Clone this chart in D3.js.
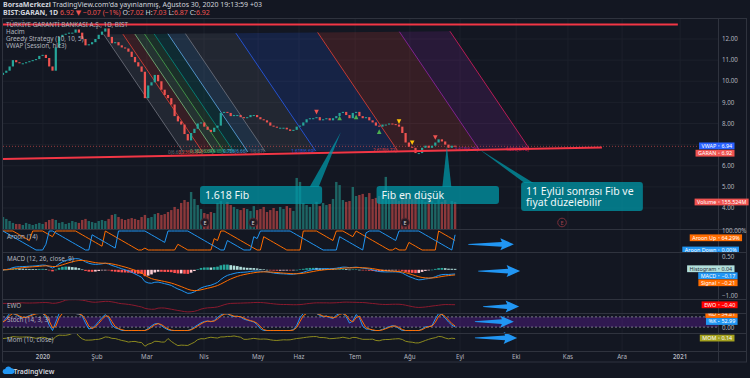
<!DOCTYPE html>
<html>
<head>
<meta charset="utf-8">
<script src="https://cdn.jsdelivr.net/npm/d3@7"></script>
<style>
  body { margin: 0; background: #131722; }
  svg { display: block; font-family: "Noto Sans", "DejaVu Sans", sans-serif; }
</style>
</head>
<body>
<svg id="chart" width="750" height="378"></svg>
<script>
// BIST:GARAN 1D, Dec 2019 - Aug 2020
// one entry = one candle as read (roughly 1.35 sessions each)
const closes = [
  10.4, 10.5, 10.7, 11.0, 10.9, 10.85, 10.85, 10.9, 10.95, 11.0,
  11.05, 11.2, 11.25, 11.1, 10.7, 10.5, 11.6, 12.1, 12.2, 12.25,
  12.3, 12.3, 12.45, 12.3, 12.0, 11.7, 11.75, 11.85, 12.0, 12.2,
  12.35, 12.5, 12.1, 11.8, 11.85, 11.7, 11.6, 11.55, 11.4, 11.15,
  10.9, 10.7, 10.45, 9.2, 9.8, 9.95, 10.3, 10.0, 9.6, 9.35,
  9.2, 8.9, 8.35, 8.1, 7.95, 7.5, 7.2, 7.55, 7.75, 8.0,
  8.05, 7.85, 7.7, 7.6, 7.8, 7.9, 8.5, 8.55, 8.5, 8.35,
  8.4, 8.4, 8.3, 8.25, 8.3, 8.4, 8.4, 8.3, 8.2, 8.15,
  8.05, 7.9, 7.85, 7.8, 7.8, 7.8, 7.72, 7.65, 7.7, 7.85,
  7.9, 8.05, 8.2, 8.25, 8.25, 8.3, 8.15, 8.2, 8.25, 8.15,
  8.25, 8.35, 8.5, 8.55, 8.4, 8.25, 8.5, 8.55, 8.35, 8.25,
  8.3, 8.15, 8.05, 7.9, 7.85, 7.95, 7.95, 8.0, 7.97, 7.95,
  7.85, 7.55, 7.1, 6.9, 6.85, 6.6, 6.6, 6.85, 6.95, 6.85,
  6.95, 7.1, 7.25, 7.15, 7.0, 6.85, 6.95, 6.92
];
const firstOpen = 10.3;
// volume in millions
const volumes = [
  69, 58, 46, 35, 29, 29, 23, 35, 29, 23, 29, 35, 29, 40,
  52, 58, 52,
  35, 40, 29, 35, 46, 40, 35, 52, 58, 46, 40, 35, 46, 52,
  46, 58, 81, 86, 69, 58, 52, 58,
  63, 58, 52, 69, 81, 63, 69,
  86, 92, 81, 86, 98,
  109, 127, 115, 150, 167, 156,
  213, 173, 138, 115,
  92, 86, 98, 92,
  150, 161, 144, 156, 138, 127, 115,
  109, 121, 115, 104, 132, 109, 115, 127, 98,
  109, 121, 104, 127, 115, 132, 121, 104,
  294, 271, 150,
  138, 127, 144, 156, 132, 150, 138, 144,
  173, 271, 253, 167, 156,
  161, 242, 190, 196, 202, 184,
  207, 173, 179, 190, 196, 300,
  173, 190, 179, 161, 196, 207,
  184, 173, 196, 179, 167, 156,
  179, 161, 150, 173, 156, 167, 144, 161, 155.524
];

const monthLabels = ["2020", "Şub", "Mar", "Nis", "May", "Haz", "Tem", "Ağu", "Eyl", "Eki", "Kas", "Ara", "2021"];
const monthBars = [12.1, 28.5, 43.6, 60.9, 77.3, 89.7, 106.7, 123.3, 138.5, 155.5, 171.2, 187.6, 205.2];
const priceTicks = [4, 5, 6, 7, 8, 9, 10, 11, 12];

const fibLevels = [0, 0.236, 0.382, 0.5, 0.618, 0.786, 1, 1.618, 2.618, 3.618, 4.236];
const fibColors = ["#787b86", "#f44336", "#81c784", "#4caf50", "#009688", "#64b5f6", "#787b86", "#2962ff", "#f44336", "#9c27b0", "#e91e63"];
// fib channel drawing points (bar, price)
const fibAnchor = [30.5, 12.22];
const fibSpan = [24.2, -5.59];
const fibStep = [24.77, 0.035];

// drawn trend lines (bar, price)
const topLine = [[0, 12.69], [204.5, 12.69]];
const supportLine = [[0, 6.32], [181.5, 6.86]];

const longSignals = [102, 107, 114];
const shortSignals = [95, 131];
const closeSignals = [120, 124];
const earningsBars = [61.2, 75.8, 121.8, 169.4];

const callouts = [
  { text: ["1.618 Fib"], box: [59.7, 96.7, 5.04, 4.19], tip: [102.4, 7.6] },
  { text: ["Fib en düşük"], box: [113.2, 150.3, 5.04, 4.19], tip: [134.5, 6.93] },
  { text: ["11 Eylül sonrası Fib ve", "fiyat düzelebilir"], box: [157, 193.9, 5.23, 3.86], tip: [144.2, 6.79] }
];

const legendLines = ["TÜRKİYE GARANTİ BANKASI A.Ş., 1D, BIST", "Hacim", "Greedy Strategy (10, 10, 5)", "VWAP (Session, hlc3)"];
const paneTitles = ["Aroon (14)", "MACD (12, 26, close, 9)", "EWO", "Stoch (14, 3, 3)", "Mom (10, close)"];

// last values shown on the scale
const lastVwap = 6.94, lastClose = 6.92, lastVolume = 155.524;
const lastAroon = [64.29, 0.0];
const lastMacd = [0.04, -0.17, -0.21];
const lastEwo = -0.40;
const lastStoch = [54.81, 52.99];
const lastMom = 0.14;

// sub-pane arrows: [from bar, to bar, value on the pane scale]
const arrows = {
  aroon: [141, 154.8, 30],
  macd: [144, 156.7, -0.05],
  ewo: [145.5, 156.4, -0.9],
  stoch: [143, 154.8, 52],
  mom: [143, 155.8, 0.2]
};

// indicator periods shortened because each candle above is ~1.35 sessions
const aroonLen = 10, macdFast = 9, macdSlow = 19, macdSig = 7;
const stochLen = 10, stochSmooth = 2, momLen = 7, ewoFast = 4, ewoSlow = 26;

const bg = "#131722", upCol = "#26a69a", downCol = "#ef5350", gridCol = "#1c202b", sepCol = "#2f333e", txtCol = "#b2b5be";

const svg = d3.select("#chart");
const defs = svg.append("defs");
svg.append("rect").attr("width", 750).attr("height", 378).attr("fill", bg);

function clip(id, y0, y1, x0 = 2.5, x1 = 718) {
  defs.append("clipPath").attr("id", id).append("rect")
    .attr("x", x0).attr("y", y0).attr("width", x1 - x0).attr("height", y1 - y0);
  return `url(#${id})`;
}

const panes = { main: [18, 229], aroon: [229, 252], macd: [252, 299], ewo: [299, 313], stoch: [313, 333], mom: [333, 351] };

const x = d3.scaleLinear().domain([0, 216]).range([3, 715.8]);
const yPrice = d3.scaleLinear().domain([4, 12]).range([208, 39]);
const yVol = d3.scaleLinear().domain([0, 300]).range([229, 176.9]);
const yAroon = d3.scaleLinear().domain([0, 100]).range([250, 231]);
const yMacd = d3.scaleLinear().domain([-1, 0.5]).range([296, 256.7]);
const yEwo = d3.scaleLinear().domain([-2.4, 0]).range([311.8, 303.4]);
const yStoch = d3.scaleLinear().domain([0, 100]).range([330.5, 313.5]);
const yMom = d3.scaleLinear().domain([-3.1, 1.25]).range([348.5, 334.5]);

const bars = closes.map((c, i) => ({ i, o: i ? closes[i - 1] : firstOpen, c, v: volumes[i] }));

// ---------- indicators ----------
function ema(arr, n) {
  const k = 2 / (n + 1);
  let prev;
  return arr.map((v, i) => (prev = i ? v * k + prev * (1 - k) : v));
}
function sma(arr, n) {
  return arr.map((v, i) => d3.mean(arr.slice(Math.max(0, i - n + 1), i + 1)));
}
const aroonUp = [], aroonDown = [];
closes.forEach((c, i) => {
  const from = Math.max(0, i - aroonLen);
  const win = closes.slice(from, i + 1);
  let hi = 0, lo = 0;
  win.forEach((v, j) => { if (v >= win[hi]) hi = j; if (v <= win[lo]) lo = j; });
  aroonUp.push(100 * (aroonLen - (win.length - 1 - hi)) / aroonLen);
  aroonDown.push(100 * (aroonLen - (win.length - 1 - lo)) / aroonLen);
});
const emaF = ema(closes, macdFast), emaS = ema(closes, macdSlow);
const macd = closes.map((c, i) => emaF[i] - emaS[i]);
const signal = ema(macd, macdSig);
const hist = macd.map((m, i) => m - signal[i]);
const smaF = sma(closes, ewoFast), smaS = sma(closes, ewoSlow);
const ewo = closes.map((c, i) => smaF[i] - smaS[i]);
const rawK = closes.map((c, i) => {
  const win = closes.slice(Math.max(0, i - stochLen + 1), i + 1);
  const hh = d3.max(win), ll = d3.min(win);
  return hh === ll ? 50 : 100 * (c - ll) / (hh - ll);
});
const stochK = sma(rawK, stochSmooth);
const stochD = sma(stochK, stochSmooth);
const mom = closes.map((c, i) => c - closes[Math.max(0, i - momLen)]);

// ---------- grid ----------
const grid = svg.append("g").attr("stroke", gridCol).attr("stroke-width", 1);
grid.selectAll(".vg").data(monthBars).enter().append("line")
  .attr("x1", d => x(d)).attr("x2", d => x(d)).attr("y1", 18).attr("y2", 351);
grid.selectAll(".hg").data(priceTicks).enter().append("line")
  .attr("x1", 3).attr("x2", 718).attr("y1", d => yPrice(d)).attr("y2", d => yPrice(d));

// ---------- main pane ----------
const main = svg.append("g").attr("clip-path", clip("cMain", 18, 229));

const fib = fibLevels.map((L, k) => {
  const tb = fibAnchor[0] + fibStep[0] * L, tp = fibAnchor[1] + fibStep[1] * L;
  return { L, color: fibColors[k], top: [tb, tp], bot: [tb + fibSpan[0], tp + fibSpan[1]] };
});
const P = p => [x(p[0]), yPrice(p[1])];
fib.slice(0, -1).forEach((f, k) => {
  const n = fib[k + 1];
  main.append("path")
    .attr("d", "M" + [P(f.top), P(n.top), P(n.bot), P(f.bot)].map(p => p.join(",")).join("L") + "Z")
    .attr("fill", f.color).attr("fill-opacity", 0.16);
});
fib.forEach(f => {
  main.append("line")
    .attr("x1", P(f.top)[0]).attr("y1", P(f.top)[1])
    .attr("x2", P(f.bot)[0]).attr("y2", P(f.bot)[1])
    .attr("stroke", f.color).attr("stroke-width", 1).attr("opacity", 0.75);
});
// level labels at the lower ends (they crowd each other on the left, as on the original)
fib.forEach(f => {
  main.append("text")
    .attr("x", P(f.bot)[0] - 1).attr("y", P(f.bot)[1] + 1.3)
    .attr("text-anchor", "end").attr("font-size", 4.6).attr("fill", f.color).attr("opacity", 0.85)
    .text(`${f.L}(${f.bot[1].toFixed(2)})`);
});

// volume
main.selectAll(".vol").data(bars).enter().append("rect")
  .attr("x", d => x(d.i) - 1.2).attr("width", 2.4)
  .attr("y", d => yVol(d.v)).attr("height", d => yVol(0) - yVol(d.v))
  .attr("fill", d => d.c >= d.o ? upCol : downCol).attr("opacity", 0.55);

// last price dotted line
main.append("line")
  .attr("x1", 3).attr("x2", 718).attr("y1", yPrice(lastClose)).attr("y2", yPrice(lastClose))
  .attr("stroke", downCol).attr("stroke-opacity", 0.6).attr("stroke-dasharray", "1,2");

// candles
main.selectAll(".candle").data(bars).enter().append("rect")
  .attr("x", d => x(d.i) - 1.1).attr("width", 2.2)
  .attr("y", d => yPrice(Math.max(d.o, d.c)))
  .attr("height", d => Math.max(1, Math.abs(yPrice(d.o) - yPrice(d.c))))
  .attr("fill", d => d.c >= d.o ? upCol : downCol);

// strategy signals
function tri(cx, cy, up) {
  const s = 2.3;
  return up ? `M${cx},${cy - s}L${cx + s},${cy + s}L${cx - s},${cy + s}Z`
            : `M${cx},${cy + s}L${cx + s},${cy - s}L${cx - s},${cy - s}Z`;
}
main.selectAll(".sigL").data(longSignals).enter().append("path")
  .attr("d", d => tri(x(d), yPrice(closes[d]) + 5, true)).attr("fill", "#4caf50");
main.selectAll(".sigS").data(shortSignals).enter().append("path")
  .attr("d", d => tri(x(d), yPrice(closes[d]) - 5, false)).attr("fill", "#ef5350");
main.selectAll(".sigC").data(closeSignals).enter().append("path")
  .attr("d", d => tri(x(d), yPrice(closes[d]) - 5, false)).attr("fill", "#ffc107");

// legend
svg.selectAll(".legend").data(legendLines).enter().append("text")
  .attr("x", 6).attr("y", (d, k) => 26.6 + k * 7.1)
  .attr("font-size", 6.3).attr("fill", txtCol).text(d => d);

// trend lines
[topLine, supportLine].forEach(l => {
  main.append("line")
    .attr("x1", x(l[0][0])).attr("y1", yPrice(l[0][1]))
    .attr("x2", x(l[1][0])).attr("y2", yPrice(l[1][1]))
    .attr("stroke", "#f23645").attr("stroke-width", 2);
});

// earnings
const eg = svg.append("g");
earningsBars.forEach(b => {
  const future = b > closes.length - 1;
  eg.append("circle").attr("cx", x(b)).attr("cy", 222.5).attr("r", 4.3)
    .attr("fill", future ? "none" : "#221b24").attr("stroke", future ? "#7a2f3a" : "#4d2630");
  eg.append("text").attr("x", x(b)).attr("y", 224.6).attr("text-anchor", "middle")
    .attr("font-size", 5.5).attr("fill", future ? "#a0414f" : "#d1d4dc").text("E");
});

// callouts
callouts.forEach(c => {
  const x0 = x(c.box[0]), x1 = x(c.box[1]), y0 = yPrice(c.box[2]), y1 = yPrice(c.box[3]);
  const tx = x(c.tip[0]), ty = yPrice(c.tip[1]);
  const bc = Math.max(x0 + 8, Math.min(x1 - 8, tx));
  const g = svg.append("g");
  g.append("path")
    .attr("d", `M${bc - 4.5},${y0 + 1}L${tx},${ty}L${bc + 4.5},${y0 + 1}Z`)
    .attr("fill", "rgba(0,151,167,0.75)");
  g.append("rect").attr("x", x0).attr("y", y0).attr("width", x1 - x0).attr("height", y1 - y0)
    .attr("rx", 3).attr("fill", "rgba(0,151,167,0.75)");
  const lh = 10.5, mid = (y0 + y1) / 2 - (c.text.length - 1) * lh / 2;
  c.text.forEach((t, k) => {
    g.append("text").attr("x", x0 + 5).attr("y", mid + k * lh + 3.8)
      .attr("font-size", 10.5).attr("fill", "#eef7f8").text(t);
  });
});

// ---------- sub panes ----------
const line = (data, ys) => d3.line().x((d, i) => x(i)).y(d => ys(d))(data);

const aroonG = svg.append("g").attr("clip-path", clip("cAroon", 229, 252));
aroonG.append("path").attr("d", line(aroonUp, yAroon)).attr("fill", "none").attr("stroke", "#ff6d00").attr("stroke-width", 1);
aroonG.append("path").attr("d", line(aroonDown, yAroon)).attr("fill", "none").attr("stroke", "#2196f3").attr("stroke-width", 1);

const macdG = svg.append("g").attr("clip-path", clip("cMacd", 252, 299));
macdG.selectAll(".h").data(hist).enter().append("rect")
  .attr("x", (d, i) => x(i) - 1.3).attr("width", 2.6)
  .attr("y", d => Math.min(yMacd(0), yMacd(d)))
  .attr("height", d => Math.max(0.6, Math.abs(yMacd(d) - yMacd(0))))
  .attr("fill", (d, i) => {
    const prev = i ? hist[i - 1] : d;
    if (d >= 0) return prev < d ? "#26a69a" : "#b2dfdb";
    return prev < d ? "#ffcdd2" : "#ff5252";
  });
macdG.append("path").attr("d", line(macd, yMacd)).attr("fill", "none").attr("stroke", "#2196f3").attr("stroke-width", 1);
macdG.append("path").attr("d", line(signal, yMacd)).attr("fill", "none").attr("stroke", "#ff6d00").attr("stroke-width", 1);

const ewoG = svg.append("g").attr("clip-path", clip("cEwo", 299, 313));
ewoG.append("path").attr("d", line(ewo, yEwo)).attr("fill", "none").attr("stroke", "#8b1a2e").attr("stroke-width", 1);

const stochG = svg.append("g").attr("clip-path", clip("cStoch", 313, 333));
stochG.append("rect").attr("x", 3).attr("width", 715).attr("y", yStoch(80)).attr("height", yStoch(20) - yStoch(80))
  .attr("fill", "#7e22ce").attr("fill-opacity", 0.28);
[80, 20].forEach(v => stochG.append("line").attr("x1", 3).attr("x2", 718).attr("y1", yStoch(v)).attr("y2", yStoch(v))
  .attr("stroke", "#787b86").attr("stroke-dasharray", "2,2"));
stochG.append("path").attr("d", line(stochK, yStoch)).attr("fill", "none").attr("stroke", "#2196f3").attr("stroke-width", 1);
stochG.append("path").attr("d", line(stochD, yStoch)).attr("fill", "none").attr("stroke", "#ff6d00").attr("stroke-width", 1);

const momG = svg.append("g").attr("clip-path", clip("cMom", 333, 351));
momG.append("path").attr("d", line(mom, yMom)).attr("fill", "none").attr("stroke", "#8c8a1f").attr("stroke-width", 1);

// pane titles
const titleY = [238.6, 261.2, 307.7, 322.2, 341.6];
paneTitles.forEach((t, k) => svg.append("text").attr("x", 7).attr("y", titleY[k])
  .attr("font-size", 6.3).attr("fill", txtCol).text(t));

// arrows
const arrowScales = { aroon: yAroon, macd: yMacd, ewo: yEwo, stoch: yStoch, mom: yMom };
Object.keys(arrows).forEach(k => {
  const [b0, b1, v] = arrows[k];
  const x0 = x(b0), x1 = x(b1), yc = arrowScales[k](v);
  const hl = 12, hh = 6, sh = 2.4, th = 0.4;
  const pts = [[x0, yc - th], [x1 - hl, yc - sh], [x1 - hl - 1.5, yc - hh], [x1, yc], [x1 - hl - 1.5, yc + hh], [x1 - hl, yc + sh], [x0, yc + th]];
  svg.append("path").attr("d", "M" + pts.map(p => p.join(",")).join("L") + "Z").attr("fill", "#2196f3");
});

// ---------- frame, separators, axes ----------
Object.values(panes).slice(1).forEach(p => svg.append("line")
  .attr("x1", 2.5).attr("x2", 746.5).attr("y1", p[0] + 0.5).attr("y2", p[0] + 0.5).attr("stroke", sepCol));
svg.append("line").attr("x1", 2.5).attr("x2", 746.5).attr("y1", 351.5).attr("y2", 351.5).attr("stroke", sepCol);
svg.append("line").attr("x1", 718.5).attr("x2", 718.5).attr("y1", 18).attr("y2", 362).attr("stroke", sepCol);
svg.append("rect").attr("x", 2.5).attr("y", 18.5).attr("width", 744).attr("height", 343.5)
  .attr("fill", "none").attr("stroke", sepCol);

// value tags on the scale
const fmt = d3.format(".2f");
const sgn = v => fmt(v).replace("-", "−");
const th = 7;
const yV = yPrice(lastVwap), yG = Math.max(yPrice(lastClose), yV + th + 0.3);

const axis = svg.append("g").attr("font-size", 6.2).attr("fill", txtCol);
// a tick hidden under the price tags is not drawn
axis.selectAll(".pt").data(priceTicks.filter(d => Math.abs(yPrice(d) - yV) > 6 && Math.abs(yPrice(d) - yG) > 6))
  .enter().append("text")
  .attr("x", 722).attr("y", d => yPrice(d) + 2.2).text(d => d.toFixed(2));
axis.append("text").attr("x", 722).attr("y", yAroon(100) + 2.2).text("100.00%");
[0.5, -1].forEach(v => axis.append("text").attr("x", 722).attr("y", yMacd(v) + 2.2).text(sgn(v)));
axis.append("text").attr("x", 722).attr("y", yStoch(0) - 0.5).text("0.00");

axis.selectAll(".mt").data(monthBars).enter().append("text")
  .attr("x", d => x(d)).attr("y", 358.5).attr("text-anchor", "middle")
  .attr("font-weight", (d, k) => /^\d/.test(monthLabels[k]) ? 600 : 400)
  .text((d, k) => monthLabels[k]);

function tag(clipId, y, name, value, fill, ink) {
  const g = svg.append("g").attr("clip-path", clipId).attr("font-size", 5.4).attr("fill", ink);
  const r = g.append("rect").attr("fill", fill);
  const nt = g.append("text").attr("x", 716.3).attr("y", y + 1.9).attr("text-anchor", "end").text(name);
  const vt = g.append("text").attr("x", 721.5).attr("y", y + 1.9).text(value);
  g.append("rect").attr("x", 718.4).attr("y", y - 0.5).attr("width", 1).attr("height", 1).attr("fill", ink);
  const nw = nt.node().getComputedTextLength(), vw = vt.node().getComputedTextLength();
  r.attr("x", 716.3 - nw - 2.5).attr("y", y - 3.4).attr("width", nw + vw + 10).attr("height", 6.8);
}
const cMainT = clip("tMain", 18, 229, 0, 750), cAroonT = clip("tAroon", 229.5, 252, 0, 750),
      cMacdT = clip("tMacd", 252.5, 299, 0, 750), cEwoT = clip("tEwo", 299.5, 313, 0, 750),
      cStochT = clip("tStoch", 313.5, 333, 0, 750), cMomT = clip("tMom", 333.5, 351, 0, 750);
tag(cMainT, yV, "VWAP", fmt(lastVwap), "#2962ff", "#fff");
tag(cMainT, yG, "GARAN", fmt(lastClose), "#ef5350", "#fff");
tag(cMainT, yVol(lastVolume), "Volume", d3.format(".3f")(lastVolume) + "M", "#ef5350", "#fff");
tag(cAroonT, yAroon(lastAroon[0]), "Aroon Up", fmt(lastAroon[0]) + "%", "#ff6d00", "#fff");
tag(cAroonT, yAroon(lastAroon[1]), "Aroon Down", fmt(lastAroon[1]) + "%", "#2196f3", "#fff");
const yH = yMacd(lastMacd[0]);
const yM = Math.max(yMacd(lastMacd[1]), yH + th);
const yS = Math.max(yMacd(lastMacd[2]), yM + th);
tag(cMacdT, yH, "Histogram", sgn(lastMacd[0]), "#b2dfdb", "#2a2e39");
tag(cMacdT, yM, "MACD", sgn(lastMacd[1]), "#2196f3", "#fff");
tag(cMacdT, yS, "Signal", sgn(lastMacd[2]), "#ff6d00", "#fff");
tag(cEwoT, yEwo(lastEwo), "EWO", sgn(lastEwo), "#ff0000", "#fff");
const yK = yStoch(lastStoch[1]);
tag(cStochT, Math.min(yStoch(lastStoch[0]), yK - th), "%D", fmt(lastStoch[0]), "#ff6d00", "#fff");
tag(cStochT, yK, "%K", fmt(lastStoch[1]), "#2196f3", "#fff");
tag(cMomT, yMom(lastMom), "MOM", fmt(lastMom), "#a3a11f", "#fff");

// ---------- header ----------
const h1 = svg.append("text").attr("x", 3).attr("y", 7).attr("font-size", 7).attr("fill", "#d1d4dc");
h1.append("tspan").attr("font-weight", 700).text("BorsaMerkezi");
h1.append("tspan").text(" TradingView.com'da yayınlanmış, Ağustos 30, 2020 19:13:59 +03");
const h2 = svg.append("text").attr("x", 3).attr("y", 15).attr("font-size", 7).attr("fill", "#d1d4dc");
h2.append("tspan").attr("font-weight", 700).text("BIST:GARAN, 1D ");
h2.append("tspan").attr("fill", downCol).text("6.92 ▼ −0.07 (−1%) ");
[["O:", "7.02"], ["H:", "7.03"], ["L:", "6.87"], ["C:", "6.92"]].forEach(([k, v]) => {
  h2.append("tspan").text(k);
  h2.append("tspan").attr("fill", downCol).text(v + " ");
});

// logo
svg.append("path")
  .attr("d", "M4.5,374 a2.6,2.6 0 0 1 0.6,-5.1 a3.4,3.4 0 0 1 6.3,-0.6 a2.8,2.8 0 0 1 0.6,5.7 z")
  .attr("fill", "#2196f3");
svg.append("text").attr("x", 13.5).attr("y", 373.5).attr("font-size", 6.8)
  .attr("font-weight", 600).attr("fill", "#d1d4dc").text("TradingView");
</script>
</body>
</html>
